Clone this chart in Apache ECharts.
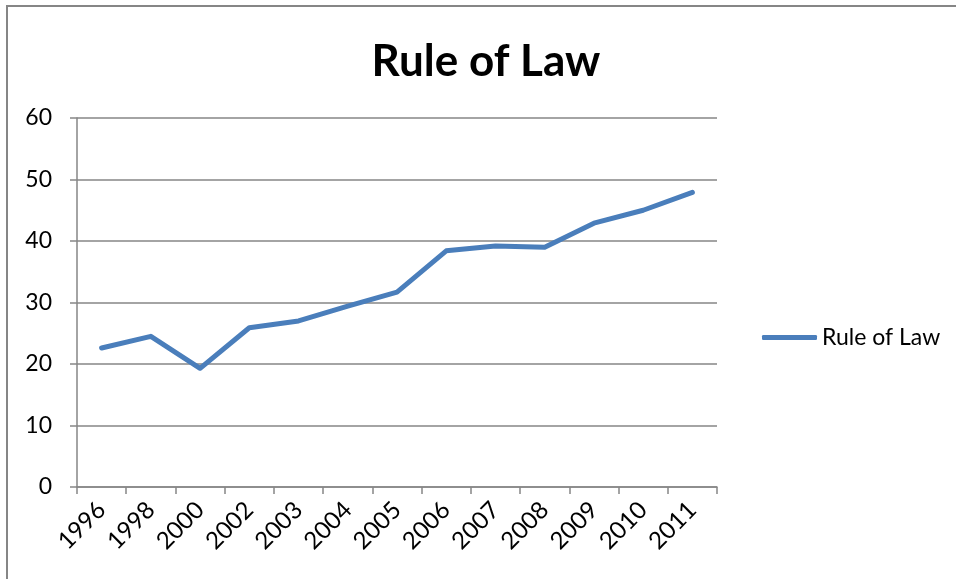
<!DOCTYPE html>
<html>
<head>
<meta charset="utf-8">
<script src="https://cdn.jsdelivr.net/npm/echarts@6/dist/echarts.min.js"></script>
<style>
  html, body { margin: 0; padding: 0; background: #fff; }
  #chart { width: 956px; height: 579px; }
</style>
</head>
<body>
<div id="chart"></div>
<script>
// Rule of Law score by year
const years = ['1996', '1998', '2000', '2002', '2003', '2004', '2005', '2006', '2007', '2008', '2009', '2010', '2011'];
const ruleOfLaw = [22.6, 24.5, 19.3, 25.9, 27.0, 29.4, 31.7, 38.4, 39.2, 39.0, 42.9, 45.0, 47.9];
const yTicks = [0, 10, 20, 30, 40, 50, 60];

const FONT = 'Lato, "Open Sans", sans-serif';
const GRAY = '#868686';

const chart = echarts.init(document.getElementById('chart'), null, { renderer: 'canvas' });
chart.setOption({
  animation: false,
  backgroundColor: '#fff',
  title: {
    text: 'Rule of Law',
    left: 481, top: 35, textAlign: 'center',
    textStyle: { fontFamily: FONT, fontWeight: 'bold', fontSize: 44, color: '#000' }
  },
  legend: {
    data: [{ name: 'Rule of Law', icon: 'roundRect' }],
    left: 757, top: 321,
    itemWidth: 55, itemHeight: 5, itemGap: 5,
    textStyle: { fontFamily: FONT, fontSize: 23, color: '#000' }
  },
  grid: { left: 77, right: 239, top: 118, bottom: 92, containLabel: false },
  xAxis: {
    type: 'category',
    data: years,
    boundaryGap: true,
    axisLine: { lineStyle: { color: GRAY, width: 1.5 } },
    axisTick: { show: true, length: 7, lineStyle: { color: GRAY, width: 1.5 } },
    axisLabel: { rotate: 45, margin: 19, interval: 0, fontFamily: FONT, fontSize: 24, color: '#000' }
  },
  yAxis: {
    type: 'value',
    min: yTicks[0], max: yTicks[yTicks.length - 1], interval: 10,
    axisLine: { show: true, lineStyle: { color: GRAY, width: 1.5 } },
    axisTick: { show: true, length: 7, lineStyle: { color: GRAY, width: 1.5 } },
    splitLine: { lineStyle: { color: GRAY, width: 1.5 } },
    axisLabel: { margin: 25, fontFamily: FONT, fontSize: 23, color: '#000' }
  },
  series: [{
    name: 'Rule of Law',
    type: 'line',
    data: ruleOfLaw,
    showSymbol: false,
    symbol: 'none',
    lineStyle: { color: '#4A7EBB', width: 5, cap: 'round', join: 'round' },
    itemStyle: { color: '#4A7EBB' }
  }],
  graphic: [{
    type: 'rect',
    shape: { x: 7, y: 6, width: 960, height: 590 },
    style: { fill: 'none', stroke: GRAY, lineWidth: 2 },
    silent: true
  }]
});
</script>
</body>
</html>
